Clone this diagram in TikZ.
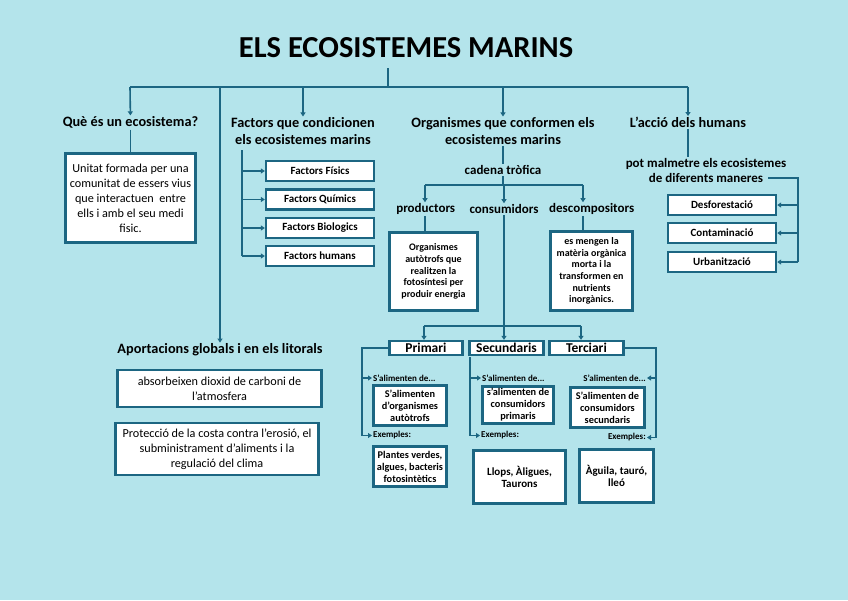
\documentclass[tikz,border=0pt]{standalone}
\usepackage{fontspec}
\setmainfont{Carlito}
\usetikzlibrary{arrows.meta}
\definecolor{seabg}{RGB}{180,228,235}
\definecolor{sealine}{RGB}{28,102,130}
\tikzset{
  link/.style={draw=sealine, line width=1.6pt},
  arr/.style={link, -{Triangle[length=4pt,width=5pt]}},
  card/.style={draw=sealine, fill=white, line width=2.4pt, align=center, inner sep=2pt},
  maintitle/.style={font=\bfseries\fontsize{30.5}{34}\selectfont},
  head/.style={font=\bfseries\fontsize{14.3}{16.5}\selectfont, align=center, inner sep=1pt},
  sub/.style={font=\bfseries\fontsize{13}{15}\selectfont, inner sep=1pt},
  plain/.style={card, font=\fontsize{12.2}{15}\selectfont},
  factor/.style={card, font=\bfseries\fontsize{11}{12}\selectfont, minimum width=108pt, minimum height=20pt, inner sep=0pt},
  note/.style={card, font=\bfseries\fontsize{10}{11.7}\selectfont, inner sep=1pt},
  level/.style={card, font=\bfseries\fontsize{13.5}{14}\selectfont, minimum height=14pt, inner sep=0pt},
  food/.style={card, font=\bfseries\fontsize{10.3}{12}\selectfont},
  tag/.style={font=\bfseries\fontsize{9}{10}\selectfont, inner sep=1pt},
}
\begin{document}
\begin{tikzpicture}[x=1pt,y=-1pt]
\fill[seabg] (0,0) rectangle (848,600);
\useasboundingbox (0,0) rectangle (848,600);

\node[maintitle] (title) at (406,48) {ELS ECOSISTEMES MARINS};
\coordinate (tstem) at (388,68);
\coordinate (hub) at (388,87);
\coordinate (busL) at (130,87);
\coordinate (busR) at (688,87);

% the four questions and the fifth branch
\node[head] (what) at (130.5,122.5) {Què és un ecosistema?};
\node[head] (fact) at (303,131) {Factors que condicionen\\els ecosistemes marins};
\node[head] (org) at (503,131) {Organismes que conformen els\\ecosistemes marins};
\node[head] (acc) at (688,122.5) {L’acció dels humans};
\node[head] (aport) at (220,350) {Aportacions globals i en els litorals};

\draw[link] (tstem) -- (hub);
\draw[link] (busL) -- (busR);
\draw[arr] (busL) -- (what);
\draw[arr] (busL -| aport) -- (aport);
\draw[arr] (busL -| fact) -- (fact);
\draw[arr] (busL -| org) -- (org);
\draw[arr] (busR) -- (acc);

% ecosistema
\node[plain, minimum width=130pt, minimum height=89pt] (whatbox) at (130.5,198)
  {Unitat formada per una\\comunitat de essers vius\\que interactuen\ \ entre\\ells i amb el seu medi\\fisic.};
\draw[link] (what) -- (whatbox);

% factors
\node[factor] (fis) at (320,171) {Factors Físics};
\node[factor] (qui) at (320,199.5) {Factors Químics};
\node[factor] (bio) at (320,228) {Factors Biologics};
\node[factor] (hum) at (320,256) {Factors humans};
\coordinate (fstem) at (242,150);
\draw[link] (fstem) -- (fstem |- hum);
\foreach \b in {fis,qui,bio,hum}
  \draw[arr] (fstem |- \b) -- (\b);

% aportacions
\node[plain, minimum width=204pt, minimum height=37pt] (apbox) at (219.5,388.5)
  {absorbeixen dioxid de carboni de\\l’atmosfera};
\node[plain, minimum width=203pt, minimum height=52pt] (protbox) at (217,449)
  {Protecció de la costa contra l’erosió, el\\subministrament d’aliments i la\\regulació del clima};

% cadena trofica
\node[sub] (cad) at (503,170) {cadena tròfica};
\node[sub] (prod) at (425.7,209) {productors};
\node[sub] (cons) at (504,209) {consumidors};
\node[sub] (desc) at (591.7,209) {descompositors};
\draw[link] (org) -- (cad);
\coordinate (chub) at (504,185);
\coordinate (cL) at (425,185);
\coordinate (cR) at (583,185);
\draw[link] (cad) -- (cad |- chub);
\draw[link] (cL) -- (cR);
\draw[arr] (cL) -- (cL |- prod.north);
\draw[arr] (chub) -- (chub |- cons.north);
\draw[arr] (cR) -- (cR |- desc.north);

\node[note, minimum width=88pt, minimum height=78pt] (prodbox) at (433.5,271.5)
  {Organismes\\autòtrofs que\\realitzen la\\fotosíntesi per\\produir energia};
\node[note, minimum width=82pt, minimum height=79pt] (descbox) at (591.5,271)
  {es mengen la\\matèria orgànica\\morta i la\\transformen en\\nutrients\\inorgànics.};
\draw[link] (prod.south -| cL) -- (cL |- prodbox.north);
\draw[link] (desc.south -| cR) -- (cR |- descbox.north);

% consumidors
\node[level, minimum width=73pt] (prim) at (426,348) {Primari};
\node[level, minimum width=74pt] (sec) at (506.5,348) {Secundaris};
\node[level, minimum width=74pt] (ter) at (586.5,348) {Terciari};
\coordinate (khub) at (504,326);
\coordinate (kL) at (424,326);
\coordinate (kR) at (581,326);
\draw[link] (cons) -- (khub);
\draw[link] (kL) -- (kR);
\draw[arr] (kL) -- (kL |- prim.north);
\draw[arr] (khub) -- (khub |- sec.north);
\draw[arr] (kR) -- (kR |- ter.north);

\node[tag, anchor=west] (salP) at (372,378) {S’alimenten de...};
\node[tag, anchor=west] (exP) at (372,435.5) {Exemples:};
\node[tag, anchor=west] (salS) at (481,378) {S’alimenten de...};
\node[tag, anchor=west] (exS) at (480,435.5) {Exemples:};
\node[tag, anchor=east] (salT) at (647,378) {S’alimenten de...};
\node[tag, anchor=east] (exT) at (647,437.5) {Exemples:};

\node[food, minimum width=73pt, minimum height=40pt] (p1) at (410,405.5)
  {S’alimenten\\d’organismes\\autòtrofs};
\node[food, minimum width=73pt, minimum height=40pt] (p2) at (410,466.5)
  {Plantes verdes,\\algues, bacteris\\fotosintètics};
\node[food, minimum width=71pt, minimum height=35pt] (s1) at (518,405)
  {s’alimenten de\\consumidors\\primaris};
\node[food, font=\bfseries\fontsize{11}{12.5}\selectfont, minimum width=92pt, minimum height=53pt] (s2) at (519.5,477)
  {Llops, Àligues,\\Taurons};
\node[food, minimum width=74pt, minimum height=40pt] (t1) at (607.5,407.5)
  {S’alimenten de\\consumidors\\secundaris};
\node[food, font=\bfseries\fontsize{11}{12.5}\selectfont, minimum width=74pt, minimum height=53pt] (t2) at (616.5,476)
  {Àguila, tauró,\\lleó};

\coordinate (pst) at (362,348);
\draw[link] (prim.west) -- (pst) -- (pst |- exP);
\draw[arr] (pst |- salP) -- (salP.west);
\draw[arr] (pst |- exP) -- (exP.west);
\coordinate (sst) at (470,357);
\draw[link] (sst) -- (sst |- exS);
\draw[arr] (sst |- salS) -- (salS.west);
\draw[arr] (sst |- exS) -- (exS.west);
\coordinate (tst) at (656,348);
\draw[link] (ter.east) -- (tst) -- (tst |- exT);
\draw[arr] (tst |- salT) -- (salT.east);
\draw[arr] (tst |- exT) -- (exT.east);

% accio dels humans
\node[head, font=\bfseries\fontsize{13}{15}\selectfont] (pot) at (706,170.5)
  {pot malmetre els ecosistemes\\de diferents maneres};
\draw[link] (acc) -- (acc |- pot.north);
\node[factor] (desf) at (722,205) {Desforestació};
\node[factor] (cont) at (722,233) {Contaminació};
\node[factor] (urb) at (722,262) {Urbanització};
\coordinate (potend) at (768,178);
\coordinate (hst) at (798,178);
\draw[link] (potend) -- (hst) -- (hst |- urb);
\foreach \b in {desf,cont,urb}
  \draw[arr] (hst |- \b) -- (\b);
\end{tikzpicture}
\end{document}
